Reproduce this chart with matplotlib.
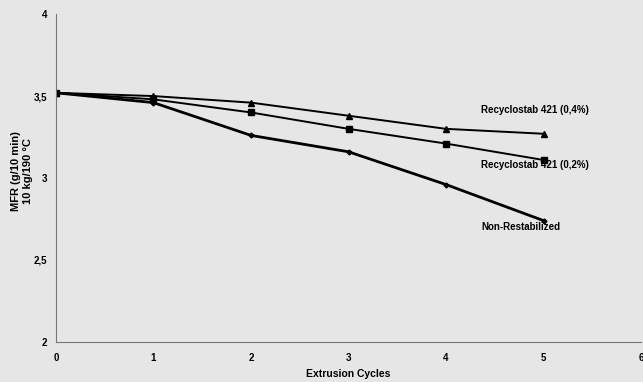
import matplotlib
matplotlib.use("Agg")
import matplotlib.pyplot as plt
from matplotlib.ticker import FuncFormatter

cycles = [0, 1, 2, 3, 4, 5]
mfr_04 = [3.52, 3.50, 3.46, 3.38, 3.30, 3.27]
mfr_02 = [3.52, 3.48, 3.40, 3.30, 3.21, 3.11]
mfr_non = [3.52, 3.46, 3.26, 3.16, 2.96, 2.74]
labels = ["Recyclostab 421 (0,4%)", "Recyclostab 421 (0,2%)", "Non-Restabilized"]

plt.rcParams['font.family'] = ['Liberation Sans', 'DejaVu Sans']
bg = '#e6e6e6'
fig = plt.figure(figsize=(6.43, 3.82), dpi=100, facecolor=bg)
ax = fig.add_axes([0.087, 0.105, 0.91, 0.858], facecolor=bg)

ax.plot(cycles, mfr_04, color='black', lw=1.4, marker='^', ms=4)
ax.plot(cycles, mfr_02, color='black', lw=1.4, marker='s', ms=4)
ax.plot(cycles, mfr_non, color='black', lw=2.0, marker='D', ms=2.5)

ax.text(4.36, 3.415, labels[0], fontsize=7, fontweight='bold', va='center')
ax.text(4.36, 3.08, labels[1], fontsize=7, fontweight='bold', va='center')
ax.text(4.36, 2.70, labels[2], fontsize=7, fontweight='bold', va='center')

ax.set_xlim(0, 6)
ax.set_ylim(2, 4)
ax.set_xticks(range(7))
ax.set_yticks([2, 2.5, 3, 3.5, 4])
ax.yaxis.set_major_formatter(FuncFormatter(lambda v, p: ('%g' % v).replace('.', ',')))
for s in ['top', 'right']:
    ax.spines[s].set_visible(False)
for s in ['left', 'bottom']:
    ax.spines[s].set_color('#777777')
    ax.spines[s].set_linewidth(0.8)
ax.tick_params(axis='x', length=0, labelsize=7, pad=8)
ax.tick_params(axis='y', length=0, labelsize=7, pad=6)
for t in ax.get_xticklabels() + ax.get_yticklabels():
    t.set_fontweight('bold')
ax.set_xlabel('Extrusion Cycles', fontsize=7.5, fontweight='bold', labelpad=4)
ax.set_ylabel('MFR (g/10 min)\n10 kg/190 °C', fontsize=8, fontweight='bold')
ax.yaxis.set_label_coords(-0.040, 0.52)

fig.savefig('out.png', dpi=100, facecolor=bg)
